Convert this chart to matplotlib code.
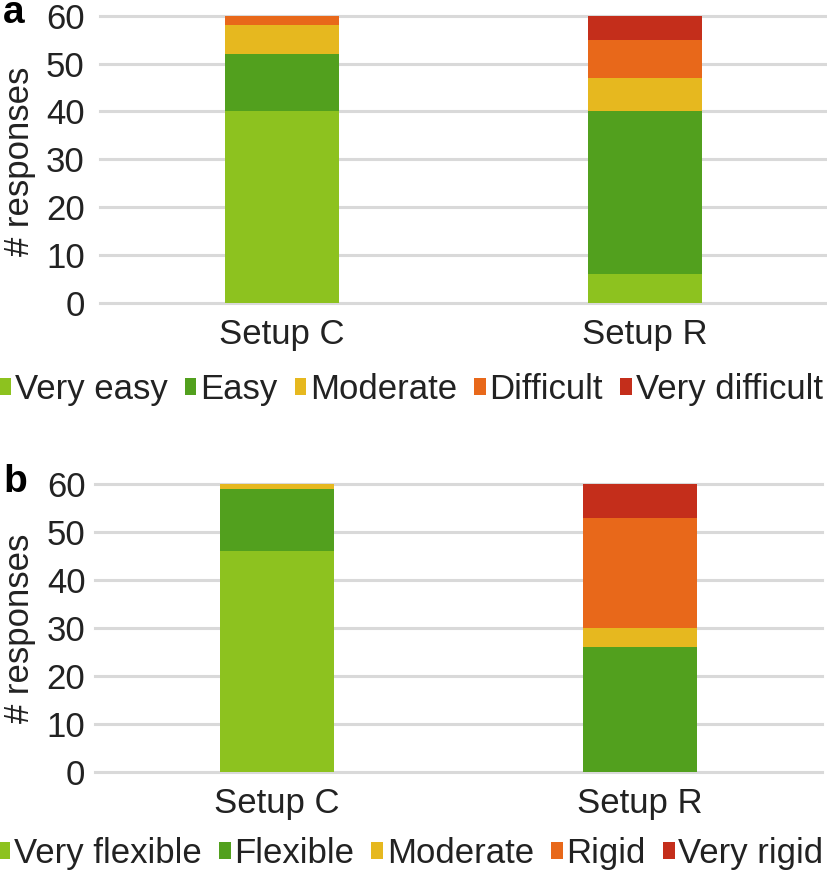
import numpy as np
import matplotlib.pyplot as plt
from matplotlib.patches import Patch

plt.rcParams['font.family'] = ['Liberation Sans', 'DejaVu Sans']

setups = ['Setup C', 'Setup R']

# panel a: ease of use
ease_labels = ['Very easy', 'Easy', 'Moderate', 'Difficult', 'Very difficult']
ease_c = [40, 12, 6, 2, 0]
ease_r = [6, 34, 7, 8, 5]

# panel b: flexibility
flex_labels = ['Very flexible', 'Flexible', 'Moderate', 'Rigid', 'Very rigid']
flex_c = [46, 13, 1, 0, 0]
flex_r = [0, 26, 4, 23, 7]

colors = ['#8dc21f', '#52a01e', '#e6b81f', '#e8681a', '#c42e1b']
text_col = '#222222'
fs = 25

fig = plt.figure(figsize=(8.27, 8.8), dpi=100)


def draw_panel(ax, vals_c, vals_r, labels, leg_y, ypad):
    data = np.array([vals_c, vals_r], dtype=float)
    x = np.arange(len(setups))
    bottom = np.zeros(len(setups))
    for i, lab in enumerate(labels):
        ax.bar(x, data[:, i], bottom=bottom, width=0.314, color=colors[i],
               edgecolor='none', zorder=3)
        bottom += data[:, i]
    ax.set_xlim(-0.5, 1.5)
    ax.set_ylim(0, 60)
    ax.set_yticks(range(0, 61, 10))
    ax.set_xticks(x)
    ax.set_xticklabels(setups)
    ax.yaxis.grid(True, color='#d9d9d9', linewidth=2.2, zorder=0)
    for gl in ax.get_ygridlines():
        gl.set_clip_on(False)
    ax.set_axisbelow(True)
    for s in ax.spines.values():
        s.set_visible(False)
    ax.tick_params(axis='both', length=0, labelsize=fs, labelcolor=text_col)
    ax.tick_params(axis='x', pad=11)
    ax.tick_params(axis='y', pad=ypad)
    handles = [Patch(facecolor=c, edgecolor='none') for c in colors]
    ax.legend(handles, labels, loc='center', bbox_to_anchor=(0.497, leg_y),
              bbox_transform=fig.transFigure, ncol=5, frameon=False,
              fontsize=fs, handlelength=0.34, handleheight=0.38,
              handletextpad=0.1, columnspacing=0.5, borderpad=0,
              labelcolor=text_col)


ax1 = fig.add_axes([0.121, 0.656, 0.878, 0.326])
draw_panel(ax1, ease_c, ease_r, ease_labels, 0.557, 11)
ax2 = fig.add_axes([0.115, 0.123, 0.879, 0.327])
draw_panel(ax2, flex_c, flex_r, flex_labels, 0.030, 7)

fig.text(0.023, 1 - 161 / 880, '# responses', rotation=90, ha='center',
         va='center', fontsize=fs, color=text_col)
fig.text(0.023, 1 - 628 / 880, '# responses', rotation=90, ha='center',
         va='center', fontsize=fs, color=text_col)
fig.text(0.004, 1 - 23 / 880, 'a', fontsize=28, fontweight='bold',
         ha='left', va='baseline')
fig.text(0.004, 1 - 492 / 880, 'b', fontsize=28, fontweight='bold',
         ha='left', va='baseline')

fig.savefig('out.png', dpi=100)
